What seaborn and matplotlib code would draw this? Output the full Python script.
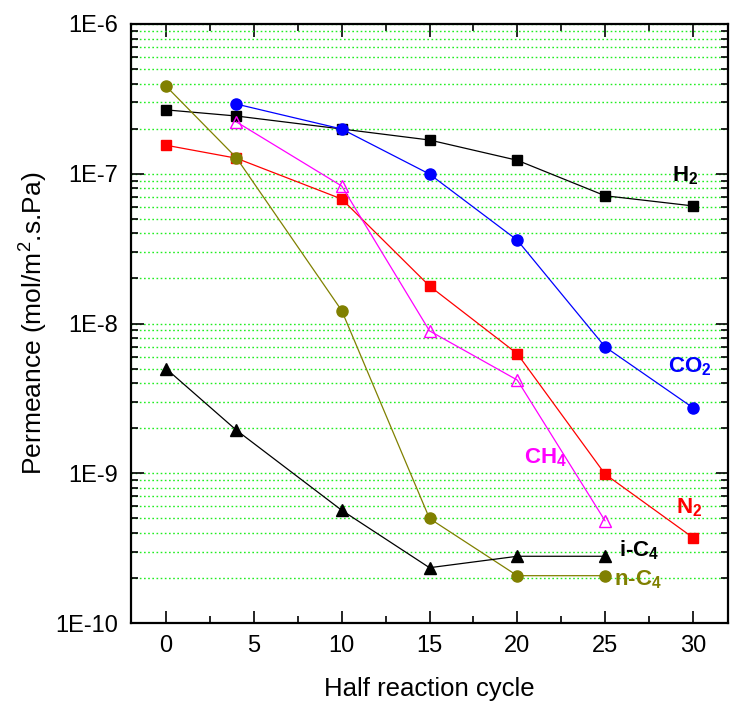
import matplotlib
matplotlib.use("Agg")
import matplotlib.pyplot as plt
import matplotlib.ticker as mticker
import seaborn as sns
import pandas as pd
import numpy as np

cycles_h2 = [0, 4, 10, 15, 20, 25, 30]
h2 = [2.67e-7, 2.43e-7, 1.99e-7, 1.68e-7, 1.23e-7, 7.13e-8, 6.1e-8]
cycles_co2 = [4, 10, 15, 20, 25, 30]
co2 = [2.92e-7, 1.99e-7, 9.95e-8, 3.6e-8, 6.98e-9, 2.74e-9]
cycles_n2 = [0, 4, 10, 15, 20, 25, 30]
n2 = [1.55e-7, 1.27e-7, 6.78e-8, 1.78e-8, 6.28e-9, 9.86e-10, 3.72e-10]
cycles_ch4 = [4, 10, 15, 20, 25]
ch4 = [2.22e-7, 8.28e-8, 8.93e-9, 4.19e-9, 4.81e-10]
cycles_nc4 = [0, 4, 10, 15, 20, 25]
nc4 = [3.84e-7, 1.28e-7, 1.22e-8, 4.99e-10, 2.07e-10, 2.07e-10]
cycles_ic4 = [0, 4, 10, 15, 20, 25]
ic4 = [4.99e-9, 1.94e-9, 5.66e-10, 2.34e-10, 2.79e-10, 2.79e-10]

xticks = [0, 5, 10, 15, 20, 25, 30]
ytick_labels = ["1E-10", "1E-9", "1E-8", "1E-7", "1E-6"]

sns.set_theme(style="ticks")
plt.rcParams["font.family"] = ["Liberation Sans", "DejaVu Sans"]
plt.rcParams["mathtext.fontset"] = "custom"
plt.rcParams["mathtext.rm"] = "Liberation Sans"
plt.rcParams["mathtext.bf"] = "Liberation Sans:bold"
plt.rcParams["mathtext.it"] = "Liberation Sans:italic"
for k in ["text.color", "axes.labelcolor", "xtick.color", "ytick.color",
          "xtick.labelcolor", "ytick.labelcolor"]:
    plt.rcParams[k] = "black"

fig = plt.figure(figsize=(7.3, 7.05), dpi=100)
ax = fig.add_axes([131/730, 82/705, (728-131)/730, (623-24)/705])

series = [
    (cycles_h2, h2, "black", "s", 6.5, "black"),
    (cycles_co2, co2, "blue", "o", 8, "blue"),
    (cycles_n2, n2, "red", "s", 6.5, "red"),
    (cycles_ch4, ch4, "#ff00ff", "^", 8.5, "none"),
    (cycles_nc4, nc4, "#808000", "o", 8, "#808000"),
    (cycles_ic4, ic4, "black", "^", 8.5, "black"),
]
for xs, ys, col, mk, ms, fc in series:
    df = pd.DataFrame({"x": xs, "y": ys})
    sns.lineplot(data=df, x="x", y="y", ax=ax, color=col, lw=0.9,
                 marker=mk, markersize=ms, markerfacecolor=fc,
                 markeredgecolor=col, markeredgewidth=1.0, zorder=3)

ax.set_yscale("log")
ax.set_xlim(-2, 32)
ax.set_ylim(1e-10, 1e-6)
ax.set_xticks(xticks)
ax.set_xticklabels([str(t) for t in xticks])
ax.xaxis.set_minor_locator(mticker.MultipleLocator(2.5))
ax.set_yticks([1e-10, 1e-9, 1e-8, 1e-7, 1e-6])
ax.set_yticklabels(ytick_labels)
ax.yaxis.set_minor_locator(mticker.LogLocator(base=10, subs=np.arange(2, 10), numticks=20))
ax.yaxis.set_minor_formatter(mticker.NullFormatter())

ax.tick_params(which="both", direction="in", top=True, right=True, width=1.2, color="black")
ax.tick_params(which="major", length=9, labelsize=17, pad=9)
ax.tick_params(which="minor", length=5)

ax.grid(False)
ax.yaxis.grid(True, which="both", color="#22ee22", linestyle=(0, (1.2, 1.8)), linewidth=1.0, zorder=0)
ax.set_axisbelow(True)
for s in ax.spines.values():
    s.set_linewidth(1.6)
    s.set_color("black")

ax.set_xlabel("Half reaction cycle", fontsize=18.5, labelpad=14)
ax.set_ylabel("Permeance (mol/m$^2$.s.Pa)", fontsize=19, labelpad=4)

kw = dict(fontsize=16, fontweight="bold", transform=ax.transData)
ax.text(28.8, 8.85e-8, r"H$_\mathbf{2}$", color="black", **kw)
ax.text(28.6, 4.75e-9, r"CO$_\mathbf{2}$", color="blue", **kw)
ax.text(20.4, 1.17e-9, r"CH$_\mathbf{4}$", color="#ff00ff", **kw)
ax.text(29.05, 5.41e-10, r"N$_\mathbf{2}$", color="red", **kw)
ax.text(25.8, 2.79e-10, r"i-C$_\mathbf{4}$", color="black", **kw)
ax.text(25.5, 1.79e-10, r"n-C$_\mathbf{4}$", color="#808000", **kw)

fig.savefig("out.png", dpi=100)
